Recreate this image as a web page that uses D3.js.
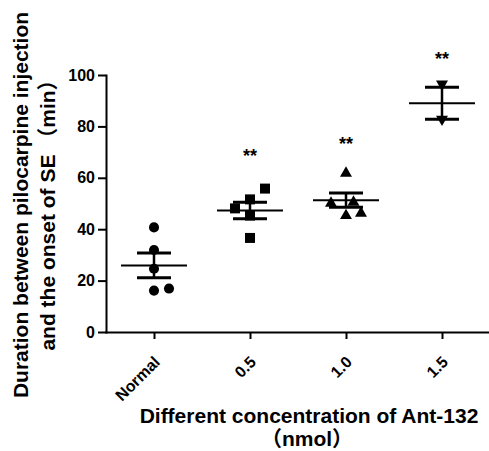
<!DOCTYPE html>
<html>
<head>
<meta charset="utf-8">
<script src="https://cdn.jsdelivr.net/npm/d3@7"></script>
<style>
  html, body { margin: 0; padding: 0; background: #fff; }
  svg { display: block; }
  text { font-family: Arial, "Liberation Sans", "Noto Sans CJK SC", sans-serif; font-weight: bold; fill: #000; }
</style>
</head>
<body>
<svg id="chart"></svg>
<script>
// groups along the x axis
const groups = ['Normal', '0.5', '1.0', '1.5'];

// individual animals (min)
const normalVals = [40.7, 31.9, 24.6, 16.1, 16.9];
const dose05Vals = [55.8, 51.6, 48.1, 45.3, 36.6];
const dose10Vals = [61.8, 50.1, 50.5, 45.3, 46.2];
const dose15Vals = [96.5, 82.8];

// horizontal spread slot of each point (so overlapping dots stay visible)
const normalSlot = [0, 0, 0, 0, 1];
const dose05Slot = [1, 0, -1, 0, 0];
const dose10Slot = [0, -1, 0.5, 0, 1];
const dose15Slot = [0, 0];

// mean +/- SEM as drawn
const means = [25.9, 47.3, 51.3, 89.0];
const sems  = [4.8, 3.2, 2.8, 6.2];

// significance marks ("**") and where they sit on the value axis
const sigMarks  = ['', '**', '**', '**'];
const sigLevels = [null, 70.2, 74.7, 107.8];

const yTicks = [0, 20, 40, 60, 80, 100];

const width = 489, height = 451;
const svg = d3.select('#chart').attr('width', width).attr('height', height);

const x = d3.scalePoint().domain(groups).range([106, 490]).padding(0.5);
const y = d3.scaleLinear().domain([0, 100]).range([332, 75]);

const sets = [
  { vals: normalVals, slot: normalSlot, shape: d3.symbolCircle, size: 80, rot: 0 },
  { vals: dose05Vals, slot: dose05Slot, shape: d3.symbolSquare, size: 100, rot: 0 },
  { vals: dose10Vals, slot: dose10Slot, shape: d3.symbolTriangle, size: 62, rot: 0 },
  { vals: dose15Vals, slot: dose15Slot, shape: d3.symbolTriangle, size: 62, rot: 180 }
];

// axes
const yAxis = svg.append('g')
  .attr('transform', 'translate(106,0)')
  .call(d3.axisLeft(y).tickValues(yTicks).tickSize(8).tickSizeOuter(0).tickPadding(3));

const xAxis = svg.append('g')
  .attr('transform', 'translate(0,332)')
  .call(d3.axisBottom(x).tickSize(7).tickSizeOuter(0).tickFormat(''));

[yAxis, xAxis].forEach(a => {
  a.select('.domain').attr('stroke-width', 2).attr('stroke-linecap', 'square');
  a.selectAll('.tick line').attr('stroke-width', 2);
});
yAxis.selectAll('.tick text').attr('font-size', 16);

// rotated group labels
svg.append('g')
  .selectAll('text')
  .data(groups)
  .join('text')
    .attr('transform', d => `translate(${x(d) + 7},${363}) rotate(-45)`)
    .attr('text-anchor', 'end')
    .attr('font-size', 16)
    .text(d => d);

// points
const step = 15;
sets.forEach((s, i) => {
  svg.append('g')
    .selectAll('path')
    .data(s.vals)
    .join('path')
      .attr('d', d3.symbol().type(s.shape).size(s.size))
      .attr('transform', (d, j) =>
        `translate(${x(groups[i]) + s.slot[j] * step},${y(d)}) rotate(${s.rot})`)
      .attr('fill', '#000');
});

// mean and SEM
const err = svg.append('g').attr('stroke', '#000');
groups.forEach((g, i) => {
  const cx = x(g);
  err.append('line')
    .attr('x1', cx).attr('x2', cx)
    .attr('y1', y(means[i] + sems[i])).attr('y2', y(means[i] - sems[i]))
    .attr('stroke-width', 2.5);
  [means[i] + sems[i], means[i] - sems[i]].forEach(v => {
    err.append('line')
      .attr('x1', cx - 17).attr('x2', cx + 17)
      .attr('y1', y(v)).attr('y2', y(v))
      .attr('stroke-width', 3);
  });
  err.append('line')
    .attr('x1', cx - 33).attr('x2', cx + 33)
    .attr('y1', y(means[i])).attr('y2', y(means[i]))
    .attr('stroke-width', 2);
});

// significance
svg.append('g')
  .selectAll('text')
  .data(groups.filter((g, i) => sigMarks[i]))
  .join('text')
    .attr('x', d => x(d))
    .attr('y', d => y(sigLevels[groups.indexOf(d)]) + 10)
    .attr('text-anchor', 'middle')
    .attr('font-size', 18)
    .text(d => sigMarks[groups.indexOf(d)]);

// axis titles
svg.append('text')
  .attr('transform', 'translate(28,205) rotate(-90)')
  .attr('text-anchor', 'middle')
  .attr('font-size', 21)
  .text('Duration between pilocarpine injection');

svg.append('text')
  .attr('transform', 'translate(55,210) rotate(-90)')
  .attr('text-anchor', 'middle')
  .attr('font-size', 21)
  .text('and the onset of SE （min）');

svg.append('text')
  .attr('x', 309).attr('y', 423)
  .attr('text-anchor', 'middle')
  .attr('font-size', 21)
  .text('Different concentration of Ant-132');

svg.append('text')
  .attr('x', 307).attr('y', 446)
  .attr('text-anchor', 'middle')
  .attr('font-size', 21)
  .text('（nmol）');
</script>
</body>
</html>
